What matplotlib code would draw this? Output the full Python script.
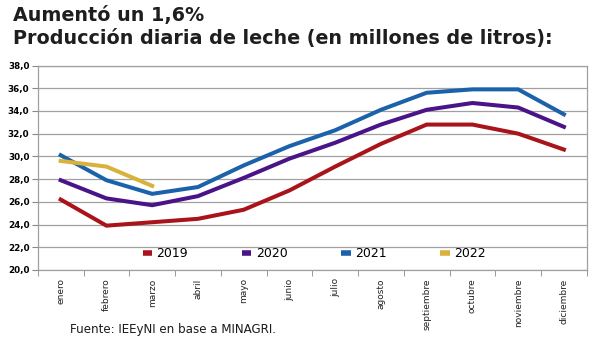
import matplotlib.pyplot as plt
from matplotlib.ticker import FuncFormatter

meses = ["enero", "febrero", "marzo", "abril", "mayo", "junio", "julio",
         "agosto", "septiembre", "octubre", "noviembre", "diciembre"]

# producción diaria, millones de litros
prod_2019 = [26.2, 23.9, 24.2, 24.5, 25.3, 27.0, 29.1, 31.1, 32.8, 32.8, 32.0, 30.6]
prod_2020 = [27.9, 26.3, 25.7, 26.5, 28.1, 29.8, 31.2, 32.8, 34.1, 34.7, 34.3, 32.6]
prod_2021 = [30.1, 27.9, 26.7, 27.3, 29.2, 30.9, 32.3, 34.1, 35.6, 35.9, 35.9, 33.7]
prod_2022 = [29.6, 29.1, 27.4]

series = [("2019", prod_2019, "#a8141a"),
          ("2020", prod_2020, "#4a1488"),
          ("2021", prod_2021, "#1c62ab"),
          ("2022", prod_2022, "#d8b23a")]

plt.rcParams["font.family"] = ["DejaVu Sans"]

fig = plt.figure(figsize=(6, 3.43), dpi=100)
ax = fig.add_axes([0.063, 0.213, 0.915, 0.596])

for nombre, vals, color in series:
    ax.plot(range(len(vals)), vals, color=color, lw=2.9, label=nombre,
            solid_joinstyle="miter", zorder=3)

ax.set_xlim(-0.5, 11.5)
ax.set_ylim(20, 38)
ax.set_yticks(range(20, 39, 2))
ax.yaxis.set_major_formatter(FuncFormatter(lambda v, _: f"{v:.1f}".replace(".", ",")))
ax.set_xticks(range(12))
ax.set_xticklabels(meses, rotation=90, fontsize=6.5, color="#222222")
ax.set_xticks([i + 0.5 for i in range(-1, 12)], minor=True)
ax.tick_params(axis="x", which="major", length=0, pad=6)
ax.tick_params(axis="x", which="minor", length=4, color="#888888")
ax.tick_params(axis="y", length=4, color="#888888", labelsize=6.3, pad=2)
for lbl in ax.get_yticklabels():
    lbl.set_fontweight("bold")

ax.grid(axis="y", color="#a0a0a0", lw=0.9)
for s in ax.spines.values():
    s.set_color("#a0a0a0")
    s.set_linewidth(0.9)

leg = ax.legend(loc="center left", ncol=4, frameon=False, fontsize=9,
                handlelength=0.75, columnspacing=4.3, borderpad=0,
                bbox_to_anchor=(0.18, 0.078), handletextpad=0.35)
for h in leg.legend_handles:
    h.set_linewidth(4)
    h.set_solid_capstyle("butt")

fig.text(0.021, 0.9397, "Aumentó un 1,6%", fontsize=13.8, fontweight="bold",
         va="baseline", color="#1e1e1e")
fig.text(0.021, 0.8717, "Producción diaria de leche (en millones de litros):",
         fontsize=13.8, fontweight="bold", va="baseline", color="#1e1e1e")
fig.text(0.117, 0.03, "Fuente: IEEyNI en base a MINAGRI.", fontsize=8.6,
         va="baseline", color="#1a1a1a")

fig.savefig("out.png", dpi=100, facecolor="white")
